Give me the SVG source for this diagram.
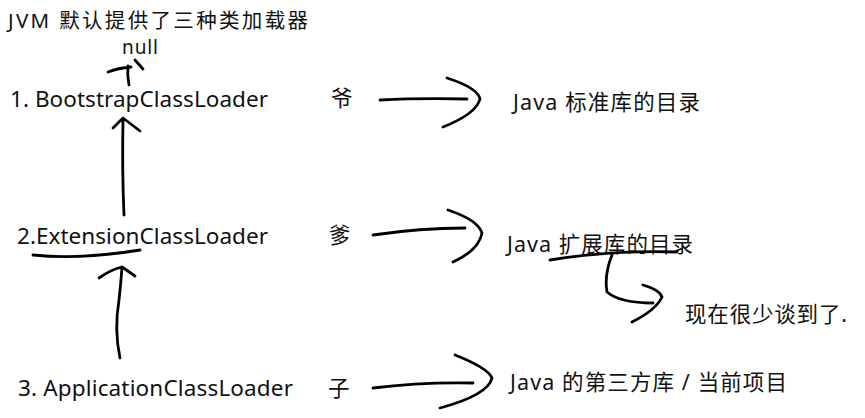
<svg xmlns="http://www.w3.org/2000/svg" width="865" height="418" viewBox="0 0 865 418">
<style>
text{font-family:"Noto Sans","Noto Sans CJK SC",sans-serif;fill:#111;}
.t{font-size:22.5px;}
.c{font-size:21.5px;}
.s{fill:none;stroke:#000;stroke-width:2.8;stroke-linecap:round;stroke-linejoin:round;}
</style>
<rect width="865" height="418" fill="#fff"/>
<g id="title"><text x="8" y="28" font-size="20.5" textLength="300">JVM 默认提供了三种类加载器</text></g>
<g id="null"><text x="122" y="54" font-size="19" textLength="36">null</text></g>
<g id="bootstrap"><text class="t" x="10" y="107" textLength="258">1. BootstrapClassLoader</text></g>
<g id="extension"><text class="t" x="17" y="244" textLength="251">2.ExtensionClassLoader</text></g>
<g id="application"><text class="t" x="18" y="396" textLength="275">3. ApplicationClassLoader</text></g>
<g id="ye"><text class="c" x="331" y="106">爷</text></g>
<g id="die"><text class="c" x="329" y="243">爹</text></g>
<g id="zi"><text class="c" x="328" y="396">子</text></g>
<g id="std"><text class="c" x="513" y="110" textLength="187">Java 标准库的目录</text></g>
<g id="ext"><text class="c" x="507" y="252" textLength="186">Java 扩展库的目录</text></g>
<g id="app"><text class="c" x="510" y="390" textLength="277">Java 的第三方库 / 当前项目</text></g>
<g id="note"><text class="c" x="685" y="322" textLength="162">现在很少谈到了.</text></g>
<g id="connectors">
<path class="s" d="M129,85 Q127,75 128,66 M108,72 Q118,68 131,67 M135,60 L143,69"/>
<path class="s" d="M124,215 Q122,170 123,119 M113,128 L123,118 L140,131"/>
<path class="s" d="M120,358 Q114,330 119,300 Q121,282 122,267 M99,278 Q110,270 122,267 L135,276"/>
<path class="s" d="M33,255 Q80,260 140,250"/>
<path class="s" d="M380,100 Q420,98 467,99 M447,78 Q478,88 480,99 Q476,114 443,127"/>
<path class="s" d="M373,235 Q420,228 465,228 M448,210 Q478,220 482,233 Q479,250 453,262"/>
<path class="s" d="M373,388 Q420,382 473,383 M455,355 Q488,368 492,378 Q488,395 440,408"/>
<path class="s" d="M550,260 Q610,250 677,252"/>
<path class="s" d="M612,255 Q604,275 607,292 Q620,303 653,303 M643,285 Q660,290 662,297 Q656,310 632,322"/>
</g>
</svg>
